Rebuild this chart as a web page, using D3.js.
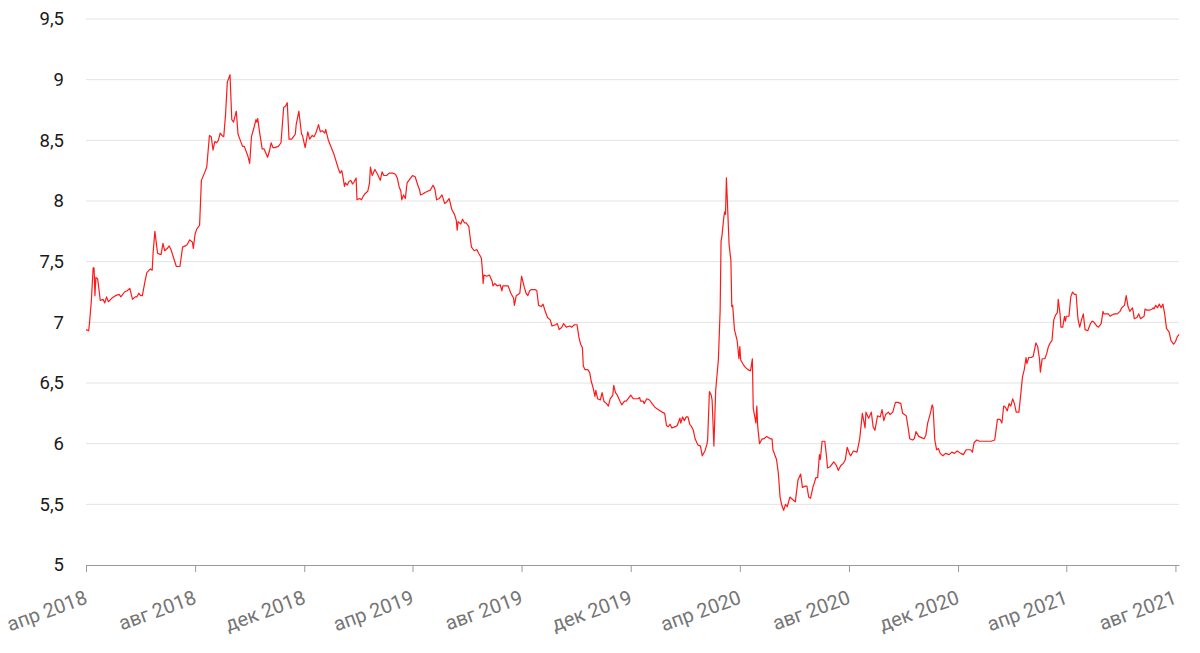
<!DOCTYPE html>
<html><head><meta charset="utf-8">
<script src="https://cdn.jsdelivr.net/npm/d3@7"></script>
<style>body{margin:0;background:#fff}svg{display:block}</style>
</head><body><svg id="chart" width="1200" height="653"></svg>
<script>
const dates = [
"2018-04-01","2018-04-04","2018-04-05","2018-04-07","2018-04-09","2018-04-10","2018-04-11","2018-04-12","2018-04-14","2018-04-17","2018-04-20","2018-04-22","2018-04-24","2018-04-26","2018-04-30",
"2018-05-04","2018-05-08","2018-05-10","2018-05-14","2018-05-17","2018-05-20","2018-05-23","2018-05-26","2018-05-28","2018-05-30",
"2018-06-01","2018-06-03","2018-06-06","2018-06-08","2018-06-12","2018-06-14","2018-06-15","2018-06-17","2018-06-20","2018-06-23","2018-06-24","2018-06-26","2018-06-28",
"2018-07-01","2018-07-03","2018-07-05","2018-07-08","2018-07-11","2018-07-15","2018-07-18","2018-07-21","2018-07-23","2018-07-26","2018-07-29","2018-07-30",
"2018-08-01","2018-08-03","2018-08-06","2018-08-08","2018-08-12","2018-08-14","2018-08-17","2018-08-19","2018-08-21","2018-08-23","2018-08-25","2018-08-27","2018-08-29","2018-08-31",
"2018-09-02","2018-09-04","2018-09-06","2018-09-09","2018-09-11","2018-09-13","2018-09-16","2018-09-18","2018-09-20","2018-09-23","2018-09-25","2018-09-27","2018-09-29",
"2018-10-01","2018-10-03","2018-10-06","2018-10-08","2018-10-09","2018-10-10","2018-10-12","2018-10-15","2018-10-17","2018-10-21","2018-10-23","2018-10-25","2018-10-27","2018-10-29",
"2018-11-02","2018-11-05","2018-11-08","2018-11-10","2018-11-12","2018-11-14","2018-11-17","2018-11-20","2018-11-21","2018-11-22","2018-11-25","2018-11-28","2018-11-29",
"2018-12-02","2018-12-05","2018-12-07","2018-12-10","2018-12-12","2018-12-14","2018-12-17","2018-12-19","2018-12-21","2018-12-24","2018-12-25","2018-12-28",
"2019-01-03","2019-01-08","2019-01-10","2019-01-12","2019-01-13","2019-01-15","2019-01-16","2019-01-18","2019-01-20","2019-01-22","2019-01-24","2019-01-26","2019-01-28","2019-01-29",
"2019-02-01","2019-02-03","2019-02-05","2019-02-07","2019-02-10","2019-02-12","2019-02-13","2019-02-15","2019-02-18","2019-02-21","2019-02-24","2019-02-26","2019-02-28",
"2019-03-03","2019-03-06","2019-03-10","2019-03-13","2019-03-15","2019-03-17","2019-03-19","2019-03-20","2019-03-22","2019-03-24","2019-03-26","2019-03-29",
"2019-04-01","2019-04-04","2019-04-07","2019-04-09","2019-04-10","2019-04-13","2019-04-15","2019-04-18","2019-04-21","2019-04-24","2019-04-26","2019-04-28",
"2019-05-01","2019-05-04","2019-05-07","2019-05-09","2019-05-12","2019-05-15","2019-05-18","2019-05-20","2019-05-21","2019-05-22","2019-05-25","2019-05-27","2019-05-29","2019-05-31",
"2019-06-03","2019-06-05","2019-06-06","2019-06-09","2019-06-12","2019-06-14","2019-06-17","2019-06-18","2019-06-19","2019-06-20","2019-06-23","2019-06-26","2019-06-29","2019-06-30",
"2019-07-02","2019-07-05","2019-07-08","2019-07-10","2019-07-11","2019-07-15","2019-07-17","2019-07-20","2019-07-23","2019-07-24","2019-07-26","2019-07-28","2019-07-30",
"2019-08-01","2019-08-04","2019-08-06","2019-08-08","2019-08-10","2019-08-12","2019-08-16","2019-08-18","2019-08-20","2019-08-23","2019-08-25","2019-08-27","2019-08-30",
"2019-09-02","2019-09-04","2019-09-08","2019-09-10","2019-09-12","2019-09-15","2019-09-17","2019-09-20","2019-09-24","2019-09-26","2019-09-29",
"2019-10-02","2019-10-04","2019-10-06","2019-10-08","2019-10-09","2019-10-11","2019-10-14","2019-10-16","2019-10-18","2019-10-20","2019-10-22","2019-10-23","2019-10-25","2019-10-28","2019-10-30",
"2019-11-01","2019-11-04","2019-11-06","2019-11-08","2019-11-11","2019-11-12","2019-11-14","2019-11-16","2019-11-19","2019-11-21","2019-11-24","2019-11-26","2019-11-29",
"2019-12-01","2019-12-04","2019-12-06","2019-12-09","2019-12-11","2019-12-12","2019-12-15","2019-12-16","2019-12-19","2019-12-22","2019-12-25","2019-12-28",
"2020-01-01","2020-01-05","2020-01-08","2020-01-10","2020-01-12","2020-01-14","2020-01-16","2020-01-20","2020-01-22","2020-01-25","2020-01-26","2020-01-28","2020-01-30",
"2020-02-01","2020-02-03","2020-02-05","2020-02-07","2020-02-09","2020-02-11","2020-02-14","2020-02-17","2020-02-19","2020-02-22","2020-02-24","2020-02-25","2020-02-27","2020-02-29",
"2020-03-01","2020-03-03","2020-03-05","2020-03-08","2020-03-10","2020-03-11","2020-03-12","2020-03-14","2020-03-15","2020-03-16","2020-03-17","2020-03-18","2020-03-20","2020-03-22","2020-03-23","2020-03-24","2020-03-26","2020-03-29","2020-03-31",
"2020-04-01","2020-04-02","2020-04-05","2020-04-07","2020-04-10","2020-04-13","2020-04-15","2020-04-16","2020-04-19","2020-04-20","2020-04-21","2020-04-23","2020-04-26","2020-04-28",
"2020-05-01","2020-05-05","2020-05-07","2020-05-08","2020-05-12","2020-05-14","2020-05-16","2020-05-18","2020-05-20","2020-05-22","2020-05-24","2020-05-27","2020-05-30",
"2020-06-02","2020-06-05","2020-06-08","2020-06-10","2020-06-13","2020-06-15","2020-06-17","2020-06-19","2020-06-22","2020-06-23","2020-06-25","2020-06-27","2020-06-29","2020-06-30",
"2020-07-02","2020-07-05","2020-07-07","2020-07-08","2020-07-11","2020-07-15","2020-07-18","2020-07-20","2020-07-23","2020-07-26","2020-07-28","2020-07-30",
"2020-08-02","2020-08-03","2020-08-06","2020-08-10","2020-08-13","2020-08-16","2020-08-19","2020-08-20","2020-08-23","2020-08-26","2020-08-28","2020-08-30",
"2020-09-02","2020-09-05","2020-09-07","2020-09-09","2020-09-11","2020-09-14","2020-09-16","2020-09-19","2020-09-22","2020-09-25","2020-09-28","2020-09-30",
"2020-10-04","2020-10-06","2020-10-08","2020-10-11","2020-10-13","2020-10-15","2020-10-18","2020-10-21","2020-10-24","2020-10-26","2020-10-28","2020-10-31",
"2020-11-02","2020-11-03","2020-11-05","2020-11-07","2020-11-09","2020-11-11","2020-11-14","2020-11-17","2020-11-21","2020-11-24","2020-11-27","2020-11-30",
"2020-12-04","2020-12-07","2020-12-10","2020-12-15","2020-12-17","2020-12-19","2020-12-22","2020-12-25","2020-12-29",
"2021-01-02","2021-01-07","2021-01-11","2021-01-14","2021-01-17","2021-01-19","2021-01-21","2021-01-23","2021-01-25","2021-01-27","2021-01-29","2021-01-31",
"2021-02-02","2021-02-04","2021-02-07","2021-02-09","2021-02-11","2021-02-13","2021-02-15","2021-02-16","2021-02-18","2021-02-21","2021-02-23","2021-02-26","2021-02-28",
"2021-03-02","2021-03-03","2021-03-05","2021-03-08","2021-03-10","2021-03-12","2021-03-14","2021-03-16","2021-03-18","2021-03-20","2021-03-22","2021-03-23","2021-03-25","2021-03-26","2021-03-28","2021-03-30","2021-03-31",
"2021-04-01","2021-04-04","2021-04-06","2021-04-08","2021-04-10","2021-04-12","2021-04-14","2021-04-16","2021-04-18","2021-04-20","2021-04-22","2021-04-25","2021-04-28","2021-04-30",
"2021-05-02","2021-05-05","2021-05-07","2021-05-10","2021-05-12","2021-05-13","2021-05-16","2021-05-18","2021-05-20","2021-05-22","2021-05-25","2021-05-28","2021-05-31",
"2021-06-02","2021-06-05","2021-06-07","2021-06-09","2021-06-11","2021-06-14","2021-06-15","2021-06-16","2021-06-19","2021-06-21","2021-06-23","2021-06-25","2021-06-27","2021-06-28","2021-06-30",
"2021-07-03","2021-07-06","2021-07-07","2021-07-08","2021-07-10","2021-07-12","2021-07-14","2021-07-16","2021-07-18","2021-07-20","2021-07-22","2021-07-25","2021-07-27","2021-07-30",
"2021-08-01","2021-08-03","2021-08-05"
];
const values = [
6.94,6.93,7.00,7.18,7.45,7.45,7.22,7.37,7.36,7.18,7.19,7.16,7.21,7.17,7.20,
7.22,7.23,7.21,7.25,7.26,7.28,7.19,7.21,7.21,7.24,
7.22,7.22,7.34,7.41,7.44,7.43,7.57,7.75,7.57,7.56,7.56,7.65,7.59,
7.61,7.63,7.60,7.53,7.46,7.46,7.62,7.63,7.64,7.68,7.66,7.61,
7.73,7.77,7.80,8.17,8.24,8.28,8.54,8.53,8.42,8.49,8.48,8.50,8.56,8.54,
8.53,8.71,8.98,9.04,8.67,8.65,8.74,8.55,8.51,8.45,8.45,8.41,8.37,
8.31,8.53,8.61,8.67,8.65,8.68,8.57,8.43,8.43,8.36,8.41,8.48,8.44,8.44,
8.45,8.48,8.77,8.78,8.81,8.51,8.51,8.54,8.55,8.63,8.74,8.55,8.54,
8.44,8.57,8.51,8.54,8.53,8.56,8.63,8.57,8.58,8.56,8.59,8.50,
8.39,8.27,8.23,8.25,8.21,8.12,8.15,8.13,8.16,8.17,8.14,8.16,8.19,8.01,
8.02,8.01,8.04,8.06,8.08,8.15,8.28,8.21,8.26,8.22,8.17,8.24,8.21,
8.21,8.23,8.23,8.22,8.19,8.12,8.08,8.01,8.05,8.02,8.15,8.18,
8.21,8.20,8.13,8.09,8.05,8.06,8.07,8.08,8.09,8.13,8.10,8.01,
8.02,8.05,7.98,7.99,8.02,7.93,7.89,7.84,7.76,7.83,7.81,7.85,7.82,7.82,
7.79,7.67,7.62,7.59,7.60,7.57,7.53,7.45,7.32,7.39,7.38,7.39,7.34,7.30,
7.32,7.30,7.31,7.26,7.30,7.30,7.30,7.24,7.20,7.14,7.22,7.23,7.24,
7.38,7.29,7.24,7.22,7.26,7.27,7.27,7.26,7.14,7.13,7.15,7.10,7.04,
7.02,6.97,6.98,6.99,6.94,6.96,6.99,6.96,6.97,6.96,6.98,
6.98,6.88,6.82,6.79,6.64,6.61,6.61,6.59,6.51,6.46,6.39,6.44,6.37,6.36,6.42,
6.35,6.33,6.31,6.37,6.40,6.48,6.42,6.40,6.35,6.32,6.35,6.35,6.38,
6.40,6.37,6.37,6.37,6.38,6.35,6.35,6.33,6.37,6.36,6.33,6.30,
6.28,6.26,6.25,6.15,6.14,6.16,6.13,6.14,6.15,6.21,6.17,6.22,6.19,
6.22,6.22,6.16,6.14,6.11,6.04,5.99,5.98,5.90,5.94,5.99,6.03,6.43,6.40,
6.36,5.98,6.44,6.69,7.10,7.67,7.71,7.86,7.91,7.89,8.19,8.01,7.64,7.51,7.13,7.14,6.94,6.85,6.70,
6.80,6.69,6.65,6.63,6.61,6.60,6.70,6.29,6.17,6.31,6.14,6.00,6.04,6.04,
6.06,6.04,6.04,5.95,5.87,5.76,5.56,5.49,5.45,5.50,5.48,5.56,5.54,
5.52,5.70,5.75,5.64,5.65,5.65,5.56,5.55,5.65,5.67,5.72,5.72,5.91,5.87,
6.02,6.02,5.89,5.80,5.81,5.85,5.82,5.78,5.82,5.84,5.87,5.97,
5.91,5.90,5.94,5.93,6.04,6.25,6.13,6.26,6.21,6.26,6.14,6.11,
6.23,6.22,6.28,6.19,6.24,6.26,6.24,6.26,6.34,6.34,6.33,6.25,
6.23,6.14,6.04,6.03,6.04,6.10,6.06,6.05,6.04,6.07,6.17,6.25,
6.32,6.30,6.03,5.95,5.96,5.92,5.90,5.92,5.91,5.93,5.92,5.94,
5.92,5.91,5.95,5.95,5.93,6.01,6.03,6.02,6.02,
6.02,6.02,6.03,6.20,6.20,6.17,6.31,6.30,6.27,6.33,6.31,6.37,
6.33,6.26,6.26,6.40,6.55,6.61,6.71,6.66,6.71,6.71,6.72,6.83,6.80,
6.70,6.59,6.70,6.70,6.74,6.80,6.83,6.85,7.02,7.06,7.08,7.19,7.07,6.96,6.96,7.05,7.01,
7.05,7.05,7.21,7.25,7.23,7.23,7.03,6.96,7.02,7.07,6.94,6.93,6.99,7.01,
7.00,6.97,6.96,6.99,7.09,7.07,7.07,7.07,7.05,7.06,7.07,7.07,7.09,
7.12,7.14,7.22,7.13,7.09,7.12,7.08,7.03,7.04,7.07,7.03,7.04,7.05,7.11,7.10,
7.10,7.11,7.12,7.11,7.14,7.12,7.15,7.12,7.15,7.07,6.95,6.92,6.85,6.82,
6.84,6.88,6.90
];
const yTicks = [5, 5.5, 6, 6.5, 7, 7.5, 8, 8.5, 9, 9.5];
const xTickDates = ["2018-04-01","2018-08-01","2018-12-01","2019-04-01","2019-08-01","2019-12-01","2020-04-01","2020-08-01","2020-12-01","2021-04-01","2021-08-01"];
const xTickLabels = ["апр 2018","авг 2018","дек 2018","апр 2019","авг 2019","дек 2019","апр 2020","авг 2020","дек 2020","апр 2021","авг 2021"];

const W = 1200, H = 653;
const m = {top: 19, right: 21, bottom: 88, left: 86};
const parse = d3.utcParse("%Y-%m-%d");
const data = dates.map((d, i) => ({date: parse(d), value: values[i]}));
const tickDates = xTickDates.map(parse);

const x = d3.scaleUtc()
  .domain([tickDates[0], data[data.length - 1].date])
  .range([m.left, W - m.right]);
const y = d3.scaleLinear()
  .domain([yTicks[0], yTicks[yTicks.length - 1]])
  .range([H - m.bottom, m.top]);

const svg = d3.select("#chart");
const font = "Roboto, 'Noto Sans', sans-serif";

// gridlines
svg.append("g")
  .selectAll("line")
  .data(yTicks.slice(1))
  .join("line")
  .attr("x1", m.left).attr("x2", W - m.right)
  .attr("y1", d => y(d)).attr("y2", d => y(d))
  .attr("stroke", "#e3e3e3").attr("stroke-width", 1);

// y axis labels
const yAxis = svg.append("g")
  .attr("transform", `translate(${m.left},0)`)
  .call(d3.axisLeft(y).tickValues(yTicks).tickSize(0).tickPadding(22)
    .tickFormat(d => String(d).replace(".", ",")));
yAxis.select(".domain").remove();
yAxis.selectAll("text")
  .attr("font-family", font).attr("font-size", 18.5).attr("fill", "#1a1a1a");

// x axis
const xAxis = svg.append("g")
  .attr("transform", `translate(0,${H - m.bottom})`)
  .call(d3.axisBottom(x).tickValues(tickDates).tickSize(7).tickSizeOuter(0)
    .tickFormat((d, i) => xTickLabels[i]));
xAxis.select(".domain").attr("stroke", "#9a9a9a");
xAxis.selectAll(".tick line").attr("stroke", "#9a9a9a");
xAxis.selectAll("text")
  .attr("font-family", font).attr("font-size", 20).attr("fill", "#757575")
  .attr("text-anchor", "end")
  .attr("x", 0).attr("y", 0).attr("dy", null)
  .attr("transform", "translate(2,38) rotate(-20)");

// line
const line = d3.line().x(d => x(d.date)).y(d => y(d.value));
svg.append("path")
  .datum(data)
  .attr("fill", "none")
  .attr("stroke", "#ff1a1a")
  .attr("stroke-width", 1.2)
  .attr("stroke-linejoin", "round")
  .attr("d", line);
</script>
</body></html>
